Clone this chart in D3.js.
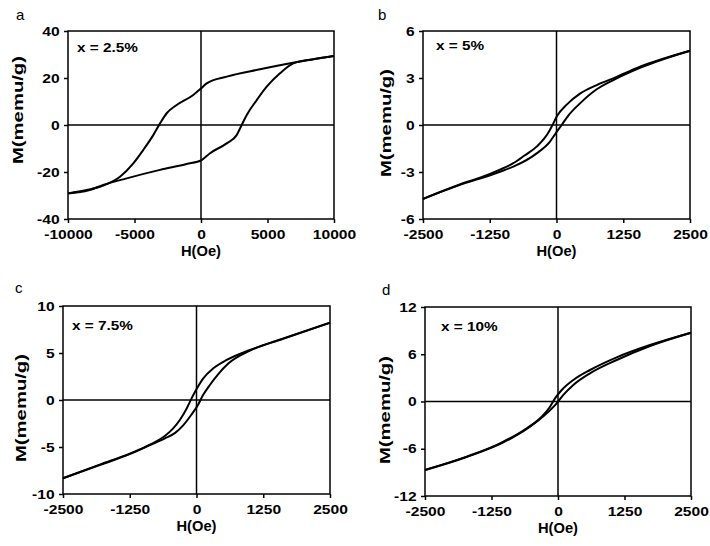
<!DOCTYPE html>
<html>
<head>
<meta charset="utf-8">
<script src="https://cdn.jsdelivr.net/npm/d3@7"></script>
<style>
  body { margin: 0; background: #fff; }
  text { font-family: "Liberation Sans", Arial, sans-serif; }
</style>
</head>
<body>
<script>
// tick values
var xTicksWide = [-10000, -5000, 0, 5000, 10000];
var xTicksNarrow = [-2500, -1250, 0, 1250, 2500];
var yTicksA = [-40, -20, 0, 20, 40];
var yTicksB = [-6, -3, 0, 3, 6];
var yTicksC = [-10, -5, 0, 5, 10];
var yTicksD = [-12, -6, 0, 6, 12];

// branches as [H(Oe), M(memu/g)], H ascending
// x = 2.5%
var aUpper = [[-10000,-29.1],[-8600,-27.7],[-7350,-25.8],[-6090,-22],[-5090,-16.3],[-4340,-10.6],[-3590,-4.3],[-3080,0.7],[-2580,5],[-1830,8.5],[-580,12.8],[50,15.8],[430,17.7],[1930,20.6],[4436,23.7],[6917,26.5],[8440,28],[10000,29.4]];
var aLower = [[-10000,-29.1],[-8440,-27.8],[-7350,-25.5],[-5590,-22.7],[-3080,-19.1],[-1080,-16.6],[50,-14.9],[680,-12],[1930,-7.8],[2680,-4.3],[3060,0],[3440,4.3],[4190,10.6],[4940,16.3],[5940,22],[6940,26.2],[8440,28],[10000,29.4]];
// x = 5%
var bUpper = [[-2500,-4.72],[-1682,-3.64],[-1432,-3.36],[-1058,-2.85],[-809,-2.44],[-600,-1.95],[-371,-1.38],[-154,-0.5],[-90,-0.1],[15,0.6],[191,1.3],[440,2.0],[753,2.55],[1064,2.98],[1564,3.72],[2500,4.74]];
var bLower = [[-2500,-4.72],[-1682,-3.68],[-1432,-3.42],[-1058,-2.98],[-809,-2.66],[-371,-1.81],[-122,-1.06],[-9,-0.5],[97,0],[221,0.6],[440,1.38],[753,2.28],[1064,2.87],[1564,3.65],[2500,4.74]];
// x = 7.5%
var cUpper = [[-2500,-8.33],[-1800,-6.85],[-1250,-5.7],[-871,-4.75],[-600,-3.85],[-450,-3.1],[-309,-2.1],[-184,-0.9],[-90,0.2],[4,1.2],[127,2.31],[315,3.37],[565,4.26],[1002,5.32],[1625,6.56],[2500,8.22]];
var cLower = [[-2500,-8.33],[-1800,-6.9],[-1250,-5.75],[-871,-4.8],[-600,-4.1],[-400,-3.5],[-250,-2.7],[-100,-1.6],[30,-0.5],[120,0.5],[250,1.6],[400,2.7],[600,3.9],[1002,5.25],[1625,6.5],[2500,8.22]];
// x = 10%
var dUpper = [[-2500,-8.7],[-1717,-7.0],[-1090,-5.31],[-588,-3.4],[-306,-1.93],[-150,-0.66],[-56,0.4],[70,1.46],[288,2.73],[602,4.0],[1103,5.61],[1729,7.17],[2500,8.74]];
var dLower = [[-2500,-8.7],[-1717,-7.05],[-1028,-5.2],[-526,-3.2],[-212,-1.5],[-25,-0.23],[100,0.83],[288,2.1],[602,3.58],[1103,5.27],[1729,7.05],[2500,8.74]];

var panels = [
  {letter: "a", label: "x = 2.5%", upper: aUpper, lower: aLower, xd: [-10000, 10000], yd: [-40, 40],
   xt: xTicksWide, yt: yTicksA, l: 68, t: 31, r: 334, b: 219, lx: 16, ly: 20, tx: 77, ty: 52, yTitleX: 18, yTitleY: 110},
  {letter: "b", label: "x = 5%", upper: bUpper, lower: bLower, xd: [-2500, 2500], yd: [-6, 6],
   xt: xTicksNarrow, yt: yTicksB, l: 423, t: 31, r: 690, b: 219, lx: 378, ly: 20, tx: 436, ty: 50, yTitleX: 386, yTitleY: 123},
  {letter: "c", label: "x = 7.5%", upper: cUpper, lower: cLower, xd: [-2500, 2500], yd: [-10, 10],
   xt: xTicksNarrow, yt: yTicksC, l: 63, t: 306, r: 330, b: 494, lx: 15, ly: 293, tx: 72, ty: 330, yTitleX: 21, yTitleY: 408},
  {letter: "d", label: "x = 10%", upper: dUpper, lower: dLower, xd: [-2500, 2500], yd: [-12, 12],
   xt: xTicksNarrow, yt: yTicksD, l: 425, t: 307, r: 691, b: 496, lx: 382, ly: 295, tx: 441, ty: 331, yTitleX: 385, yTitleY: 410}
];

var svg = d3.select("body").append("svg")
  .attr("width", 710)
  .attr("height", 546);

svg.append("rect").attr("width", 710).attr("height", 546).attr("fill", "#fff");

var fmt = function(d) { return String(d); };

panels.forEach(function(p) {
  var x = d3.scaleLinear().domain(p.xd).range([p.l, p.r]);
  var y = d3.scaleLinear().domain(p.yd).range([p.b, p.t]);
  var g = svg.append("g");

  // zero lines
  g.append("line")
    .attr("x1", x(0)).attr("x2", x(0)).attr("y1", p.t).attr("y2", p.b)
    .attr("stroke", "#000").attr("stroke-width", 1.5);
  g.append("line")
    .attr("x1", p.l).attr("x2", p.r).attr("y1", y(0)).attr("y2", y(0))
    .attr("stroke", "#000").attr("stroke-width", 1.5);

  var line = d3.line()
    .x(function(d) { return x(d[0]); })
    .y(function(d) { return y(d[1]); })
    .curve(d3.curveMonotoneX);

  [p.upper, p.lower].forEach(function(br) {
    g.append("path")
      .attr("d", line(br))
      .attr("fill", "none")
      .attr("stroke", "#000")
      .attr("stroke-width", 2);
  });

  // frame
  g.append("rect")
    .attr("x", p.l).attr("y", p.t)
    .attr("width", p.r - p.l).attr("height", p.b - p.t)
    .attr("fill", "none").attr("stroke", "#000").attr("stroke-width", 1.5);

  var xa = g.append("g")
    .attr("transform", "translate(0," + p.b + ")")
    .call(d3.axisBottom(x).tickValues(p.xt).tickFormat(fmt).tickSize(4).tickSizeOuter(0).tickPadding(7));
  var ya = g.append("g")
    .attr("transform", "translate(" + p.l + ",0)")
    .call(d3.axisLeft(y).tickValues(p.yt).tickFormat(fmt).tickSize(4).tickSizeOuter(0).tickPadding(3));

  [xa, ya].forEach(function(a) {
    a.select(".domain").remove();
    a.selectAll("line").attr("stroke", "#000").attr("stroke-width", 1.5);
    a.selectAll("text")
      .attr("fill", "#000")
      .style("font-size", "13px")
      .style("font-weight", "bold")
      .attr("transform", "scale(1.2,1)");
  });

  g.append("text")
    .attr("x", (p.l + p.r) / 2)
    .attr("y", p.b + 37)
    .attr("text-anchor", "middle")
    .style("font-size", "14px")
    .style("font-weight", "bold")
    .attr("textLength", 40)
    .attr("lengthAdjust", "spacingAndGlyphs")
    .text("H(Oe)");

  g.append("text")
    .attr("transform", "translate(" + (p.yTitleX + 5) + "," + p.yTitleY + ") rotate(-90)")
    .attr("text-anchor", "middle")
    .style("font-size", "14px")
    .style("font-weight", "bold")
    .attr("textLength", 108)
    .attr("lengthAdjust", "spacingAndGlyphs")
    .text("M(memu/g)");

  g.append("text")
    .attr("x", p.tx).attr("y", p.ty)
    .style("font-size", "13px")
    .style("font-weight", "bold")
    .attr("transform", "translate(" + (-p.tx * 0.18) + ",0) scale(1.18,1)")
    .text(p.label);

  g.append("text")
    .attr("x", p.lx).attr("y", p.ly)
    .style("font-size", "15px")
    .text(p.letter);
});
</script>
</body>
</html>
